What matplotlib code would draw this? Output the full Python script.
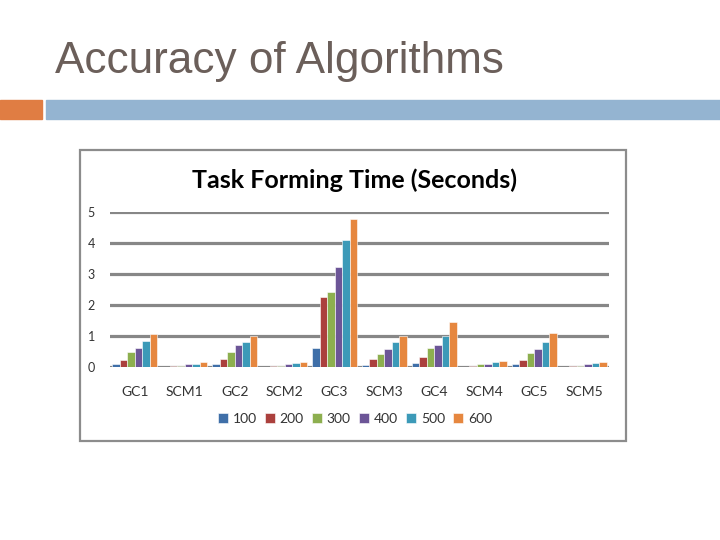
import numpy as np
import matplotlib.pyplot as plt
from matplotlib.patches import Rectangle

# data
categories = ["GC1", "SCM1", "GC2", "SCM2", "GC3", "SCM3", "GC4", "SCM4", "GC5", "SCM5"]
series_names = ["100", "200", "300", "400", "500", "600"]
s100 = [0.09, 0.01, 0.09, 0.01, 0.61, 0.05, 0.12, 0.01, 0.09, 0.01]
s200 = [0.22, 0.02, 0.25, 0.02, 2.27, 0.26, 0.32, 0.02, 0.22, 0.02]
s300 = [0.47, 0.03, 0.50, 0.03, 2.43, 0.41, 0.60, 0.09, 0.44, 0.04]
s400 = [0.61, 0.09, 0.72, 0.09, 3.23, 0.59, 0.72, 0.09, 0.59, 0.09]
s500 = [0.83, 0.09, 0.80, 0.12, 4.10, 0.80, 1.01, 0.15, 0.80, 0.12]
s600 = [1.06, 0.15, 0.99, 0.15, 4.77, 1.01, 1.46, 0.19, 1.09, 0.15]
values = [s100, s200, s300, s400, s500, s600]
colors = ["#3f6fa8", "#ab403d", "#8daf4f", "#6c5597", "#3c9ab8", "#e6873f"]

fig = plt.figure(figsize=(7.2, 5.4), dpi=100)

# slide title and decorative bars
fig.text(55/720, 1 - 73/540, "Accuracy of Algorithms", family="Liberation Sans",
         fontsize=31.8, color="#6b5f5a", va="baseline", ha="left")
fig.patches.append(Rectangle((0, 1 - 119/540), 42/720, 19/540, transform=fig.transFigure,
                             color="#e07d43", zorder=0))
fig.patches.append(Rectangle((46/720, 1 - 119/540), 674/720, 19/540, transform=fig.transFigure,
                             color="#94b4d1", zorder=0))

# chart frame
fig.patches.append(Rectangle((80/720, 1 - 441/540), 546/720, 291/540, transform=fig.transFigure,
                             facecolor="white", edgecolor="#8c8c8c", lw=1.6, zorder=0))
fig.text(354/720, 1 - 180/540, "Task Forming Time (Seconds)", family="Lato",
         fontsize=18, fontweight="bold", color="black", ha="center", va="center")

ax = fig.add_axes([110/720, 1 - 367/540, 499/720, 155/540], zorder=2)
ax.patch.set_visible(False)
x = np.arange(len(categories))
w = 0.15
for i, (name, vals, c) in enumerate(zip(series_names, values, colors)):
    ax.bar(x + (i - 2.5) * w, vals, w, color=c, label=name, edgecolor="white", linewidth=0.4, zorder=3)

ax.set_xlim(-0.5, len(categories) - 0.5)
ax.set_ylim(0, 5)
ax.set_yticks(range(6))
ax.yaxis.grid(True, color="#878787", linewidth=2.3, zorder=0)
ax.set_axisbelow(True)
for s in ax.spines.values():
    s.set_visible(False)
ax.set_xticks(x)
ax.set_xticklabels(categories, family="Lato", fontsize=10, color="#333333")
ax.tick_params(axis="x", length=0, pad=14)
ax.tick_params(axis="y", length=0, pad=11, labelsize=9, labelcolor="#333333")
for t in ax.get_yticklabels():
    t.set_family("Lato")

fig.legend(loc="center", bbox_to_anchor=(355/720, 1 - 419/540), ncol=6, frameon=False,
           prop={"family": "Lato", "size": 10}, handlelength=0.7, handleheight=0.7,
           handletextpad=0.35, columnspacing=0.6, labelcolor="#333333")

fig.savefig("out.png", dpi=100, facecolor="white")
